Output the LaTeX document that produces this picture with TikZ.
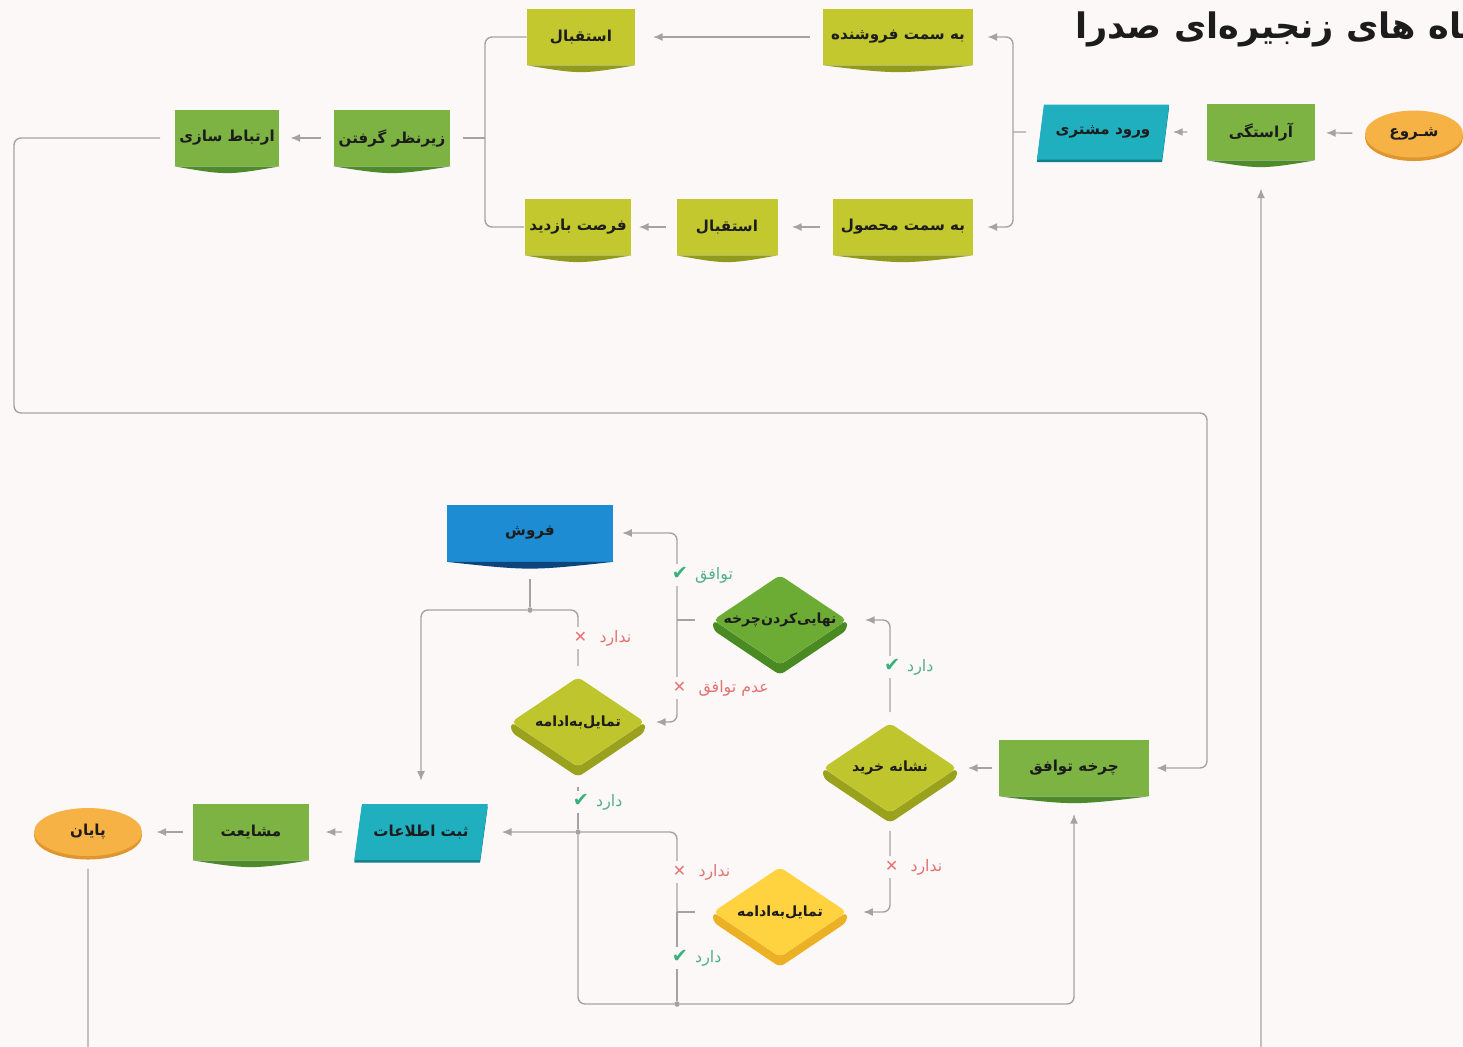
\documentclass[tikz,border=0pt]{standalone}
\usepackage{fontspec}
\usetikzlibrary{arrows.meta,calc,positioning,shapes.geometric,shadows}
\newfontfamily\fa[Script=Arabic]{DejaVu Sans}
\newfontfamily\symf{DejaVu Sans}
\TeXXeTstate=1
\newcommand\fatext[1]{\beginR#1\endR}

\definecolor{bg}{HTML}{FCF8F8}
\definecolor{txt}{HTML}{1C1C1C}
\definecolor{lnc}{HTML}{A3A3A3}
\definecolor{grn}{HTML}{7CB342}
\definecolor{grnD}{HTML}{4E8A2A}
\definecolor{lim}{HTML}{C3C82E}
\definecolor{limD}{HTML}{909A1C}
\definecolor{tea}{HTML}{1FAFBF}
\definecolor{teaD}{HTML}{137F8B}
\definecolor{blu}{HTML}{1E8CD3}
\definecolor{bluD}{HTML}{0C447E}
\definecolor{ora}{HTML}{F7B246}
\definecolor{oraD}{HTML}{E0962E}
\definecolor{fin}{HTML}{6CAC34}
\definecolor{finD}{HTML}{4A8A22}
\definecolor{dlim}{HTML}{BFC52C}
\definecolor{dlimD}{HTML}{9AA11C}
\definecolor{yel}{HTML}{FFD23F}
\definecolor{yelD}{HTML}{EBB024}
\definecolor{okc}{HTML}{52AF8C}
\definecolor{chk}{HTML}{3BB07B}
\definecolor{noc}{HTML}{E47272}

\tikzset{
  base/.style={text=txt, font=\fa\bfseries\fontsize{8.6}{10}\selectfont, inner sep=1pt},
  gbox/.style={base, rectangle, fill=grn, minimum width=#1, minimum height=1.12cm},
  lbox/.style={base, rectangle, fill=lim, minimum width=#1, minimum height=1.12cm},
  bbox/.style={base, rectangle, fill=blu, minimum width=#1, minimum height=1.14cm},
  term/.style={base, ellipse, fill=ora, minimum width=#1, minimum height=0.94cm,
    drop shadow={shadow xshift=0pt, shadow yshift=-2pt, fill=oraD, opacity=1}},
  data/.style={base, trapezium, trapezium left angle=70, trapezium right angle=110,
    trapezium stretches=true, fill=tea, minimum width=#1, minimum height=1.1cm,
    drop shadow={shadow xshift=0pt, shadow yshift=-1.5pt, fill=teaD, opacity=1}},
  dec/.style={base, diamond, fill=#1, minimum width=2.68cm, minimum height=1.8cm,
    inner sep=0pt, rounded corners=3pt, font=\fa\bfseries\fontsize{8}{10}\selectfont},
  ln/.style={draw=lnc, line width=0.8pt, rounded corners=4pt},
  arr/.style={ln, ->},
  jdot/.style={circle, fill=lnc, inner sep=0pt, minimum size=0.11cm},
  lbl/.style={fill=bg, anchor=west, inner sep=1.5pt, font=\fa\fontsize{9}{11}\selectfont},
  oklbl/.style={lbl, text=okc},
  nolbl/.style={lbl, text=noc},
}
\newcommand\okmark{{\symf\fontsize{11}{11}\selectfont\color{chk}✔}}
\newcommand\nomark{{\symf\color{noc}✕}}

\begin{document}
\begin{tikzpicture}[x=0.02cm, y=-0.02cm, >={Latex[length=5.5pt,width=4.5pt]}]
\fill[bg] (0,0) rectangle (1463,1046);
\useasboundingbox (0,0) rectangle (1463,1046);

% title, cut by the right edge as in the screenshot
\node[anchor=west, text=txt, font=\fa\bfseries\fontsize{20}{24}\selectfont, inner sep=0pt] (title) at (1075,27) {\fatext{فروشگاه های زنجیره‌ای صدرا}};

% top row
\node[term=1.96cm] (start) at (1414,134) {\fatext{شـروع}};
\node[gbox=2.16cm] (arastegi) at (1261,132) {\fatext{آراستگی}};
\node[data=2.66cm] (vorood) at (1103,132) {\fatext{ورود مشتری}};
\node[lbox=3cm] (foroshande) at (898,37) {\fatext{به سمت فروشنده}};
\node[lbox=2.16cm] (esteqbal1) at (581,37) {\fatext{استقبال}};
\node[lbox=2.8cm] (mahsul) at (903,227) {\fatext{به سمت محصول}};
\node[lbox=2.02cm] (esteqbal2) at (727,227) {\fatext{استقبال}};
\node[lbox=2.14cm] (forsat) at (578,227) {\fatext{فرصت بازدید}};
\node[gbox=2.34cm] (zirnazar) at (392,138) {\fatext{زیرنظر گرفتن}};
\node[gbox=2.1cm] (ertebat) at (227,138) {\fatext{ارتباط سازی}};

% bottom part
\node[gbox=3cm] (chakhe) at (1074,768) {\fatext{چرخه توافق}};
\node[bbox=3.32cm] (forosh) at (530,533) {\fatext{فروش}};
\node[data=2.68cm, minimum height=1.12cm] (sabt) at (421,832) {\fatext{ثبت اطلاعات}};
\node[gbox=2.34cm] (mashayat) at (251,832) {\fatext{مشایعت}};
\node[term=2.16cm, minimum height=0.96cm] (payan) at (88,832) {\fatext{پایان}};

% sides of the decisions
\foreach \x/\y/\c in {780/620/finD, 890/768/dlimD, 578/722/dlimD, 780/912/yelD}
  \fill[\c, rounded corners=3pt] ({\x-67},\y) -- ({\x-67},{\y+10}) -- (\x,{\y+55})
    -- ({\x+67},{\y+10}) -- ({\x+67},\y) -- (\x,{\y+45}) -- cycle;
\node[dec=fin] (finalize) at (780,620) {\makebox[0pt]{\fatext{نهایی‌کردن‌چرخه}}};
\node[dec=dlim] (neshane) at (890,768) {\makebox[0pt]{\fatext{نشانه خرید}}};
\node[dec=dlim] (tamayol1) at (578,722) {\makebox[0pt]{\fatext{تمایل‌به‌ادامه}}};
\node[dec=yel] (tamayol2) at (780,912) {\makebox[0pt]{\fatext{تمایل‌به‌ادامه}}};

% feet of the boxes
\foreach \n/\c in {arastegi/grnD, zirnazar/grnD, ertebat/grnD, chakhe/grnD, mashayat/grnD,
    foroshande/limD, esteqbal1/limD, mahsul/limD, esteqbal2/limD, forsat/limD, forosh/bluD}
  \fill[\c] (\n.south west) .. controls ($(\n.south)+(0,9)$) .. (\n.south east) -- cycle;

% joints
\coordinate (jr) at (1013,132);
\coordinate (jl) at (485,138);
\coordinate (lp1) at (14,413);
\coordinate (lp2) at (1207,413);
\coordinate (lp3) at (88,1120);
\coordinate (jf) at (677,620);
\coordinate (jt) at (677,912);
\node[jdot] (d1) at (530,610) {};
\node[jdot] (d2) at (578,832) {};
\node[jdot] (d3) at (677,1004) {};

% connectors, top
\draw[arr, shorten <=7pt, shorten >=6pt] (start) -- (arastegi);
\draw[arr, shorten <=11pt, shorten >=4pt] (arastegi) -- (vorood);
\draw[ln, shorten <=8pt] (vorood) -- (jr);
\draw[arr, shorten >=8pt] (jr) |- (foroshande);
\draw[arr, shorten >=8pt] (jr) |- (mahsul);
\draw[arr, shorten <=7pt, shorten >=10pt] (foroshande) -- (esteqbal1);
\draw[arr, shorten <=7pt, shorten >=8pt] (mahsul) -- (esteqbal2);
\draw[arr, shorten <=6pt, shorten >=4pt] (esteqbal2) -- (forsat);
\draw[ln] (esteqbal1) -| (jl) |- (forsat);
\draw[ln, shorten >=7pt] (jl) -- (zirnazar);
\draw[arr, shorten <=7pt, shorten >=6pt] (zirnazar) -- (ertebat);
\draw[arr, shorten <=8pt, shorten >=4pt] (ertebat) -| (lp1) -- (lp2) |- (chakhe);
\draw[arr, shorten <=7pt, shorten >=16pt] (payan) -- (lp3) -| (arastegi);

% connectors, bottom
\draw[arr, shorten <=4pt, shorten >=6pt] (chakhe) -- (neshane);
\draw[arr, shorten <=6pt, shorten >=10pt] (neshane) |- (finalize);
\draw[arr, shorten <=10pt, shorten >=9pt] (neshane) |- (tamayol2);
\draw[ln, shorten >=10pt] (jf) -- (finalize);
\draw[arr, shorten >=5pt] (jf) |- (forosh);
\draw[arr, shorten >=6pt] (jf) |- (tamayol1);
\draw[ln, shorten <=10pt] (forosh) -- (d1);
\draw[arr, shorten >=13pt] (d1) -| (sabt);
\draw[ln, shorten >=6pt] (d1) -| (tamayol1);
\draw[ln, shorten >=11pt] (d2) -- (tamayol1);
\draw[arr, shorten >=10pt] (d2) -- (sabt);
\draw[ln, shorten >=10pt] (jt) -- (tamayol2);
\draw[ln] (jt) |- (d2);
\draw[ln] (jt) -- (d3);
\draw[ln] (d3) -| (d2);
\draw[arr, shorten >=10pt] (d3) -| (chakhe);
\draw[arr, shorten <=9pt, shorten >=9pt] (sabt) -- (mashayat);
\draw[arr, shorten <=5pt, shorten >=8pt] (mashayat) -- (payan);

% answers on the lines
\node[oklbl] (l1) at (669,575) {\okmark\hspace{4pt}\fatext{توافق}};
\node[nolbl] (l2) at (670,688) {\nomark\hspace{7pt}\fatext{عدم توافق}};
\node[oklbl] (l3) at (881,667) {\okmark\hspace{4pt}\fatext{دارد}};
\node[nolbl] (l4) at (882,867) {\nomark\hspace{7pt}\fatext{ندارد}};
\node[nolbl] (l5) at (571,638) {\nomark\hspace{7pt}\fatext{ندارد}};
\node[oklbl] (l6) at (570,802) {\okmark\hspace{4pt}\fatext{دارد}};
\node[nolbl] (l7) at (670,872) {\nomark\hspace{7pt}\fatext{ندارد}};
\node[oklbl] (l8) at (669,958) {\okmark\hspace{4pt}\fatext{دارد}};
\end{tikzpicture}
\end{document}
